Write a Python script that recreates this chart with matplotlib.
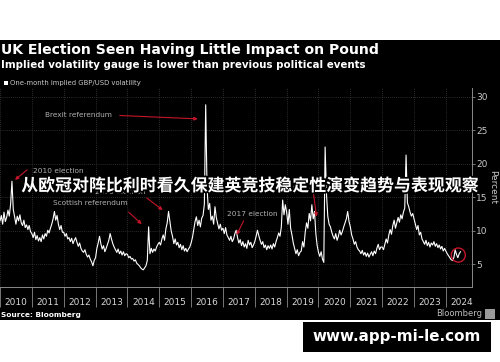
import matplotlib
matplotlib.use("Agg")
import matplotlib.pyplot as plt
import matplotlib.patheffects as pe
from matplotlib.patches import Rectangle, Ellipse
import numpy as np

# ---------------- data (semi-monthly readings, percent) ----------------
start_year = 2010
steps_per_year = 24
v2010 = [11.5, 12.3, 11.0, 12.8, 11.4, 12.0, 13.1, 12.2, 14.0, 17.4, 13.2, 12.1,
         11.0, 12.2, 11.5, 12.4, 11.2, 10.8, 11.6, 10.5, 10.9, 10.2, 10.8, 9.9]
v2011 = [9.6, 9.0, 9.8, 8.7, 9.3, 8.5, 9.0, 8.4, 9.4, 8.8, 9.6, 9.2,
         10.1, 9.7, 10.4, 11.0, 11.8, 12.9, 11.6, 12.3, 11.0, 10.2, 10.8, 9.8]
v2012 = [9.8, 9.2, 9.6, 8.8, 9.0, 8.4, 8.9, 8.1, 8.6, 9.0, 8.3, 7.7,
         8.2, 7.4, 7.0, 6.8, 7.2, 6.5, 6.1, 6.4, 5.8, 5.4, 4.8, 5.6]
v2013 = [6.0, 7.4, 8.2, 9.2, 8.1, 7.3, 7.8, 6.9, 7.4, 8.0, 8.6, 9.6,
         8.8, 8.1, 7.6, 7.2, 6.8, 7.3, 6.6, 7.0, 6.4, 6.9, 6.3, 6.6]
v2014 = [6.5, 6.0, 6.2, 5.8, 5.9, 5.5, 5.7, 5.2, 5.0, 4.8, 4.5, 4.3,
         4.2, 4.5, 4.8, 5.6, 10.6, 6.6, 7.4, 6.8, 7.3, 7.0, 7.6, 8.0]
v2015 = [8.3, 7.9, 8.8, 9.4, 8.6, 10.3, 11.2, 12.9, 11.5, 10.0, 9.2, 8.1,
         8.8, 7.9, 8.3, 7.5, 8.0, 7.2, 7.8, 7.0, 7.4, 6.9, 7.3, 7.6]
v2016 = [8.2, 9.0, 10.2, 11.4, 12.1, 10.8, 11.6, 10.6, 11.9, 12.3, 14.0, 28.8,
         16.5, 13.2, 14.1, 11.6, 12.2, 11.0, 13.6, 12.0, 11.1, 10.3, 11.0, 10.1]
v2017 = [10.4, 9.6, 10.5, 9.4, 9.0, 8.6, 9.2, 8.4, 8.8, 9.6, 10.1, 9.0,
         8.2, 8.7, 7.8, 8.4, 7.6, 8.1, 7.4, 8.6, 7.9, 8.3, 7.5, 7.9]
v2018 = [8.4, 9.2, 10.1, 9.3, 8.6, 8.0, 8.4, 7.5, 7.9, 7.2, 7.8, 7.4,
         7.9, 7.3, 8.1, 7.6, 8.4, 9.0, 9.7, 9.2, 10.6, 14.6, 12.4, 13.9]
v2019 = [12.8, 11.0, 13.2, 10.4, 9.4, 8.2, 7.4, 6.6, 7.2, 6.3, 6.8, 7.0,
         8.4, 7.6, 9.8, 11.2, 10.4, 12.6, 11.5, 13.9, 11.8, 12.9, 9.6, 7.8]
v2020 = [6.8, 6.2, 6.9, 5.8, 5.3, 22.5, 15.6, 12.2, 11.0, 10.6, 9.8, 9.2,
         8.8, 9.6, 8.6, 9.2, 10.1, 9.4, 9.9, 10.6, 11.2, 11.8, 12.9, 11.4]
v2021 = [10.6, 9.4, 8.8, 8.0, 8.4, 7.6, 7.2, 7.0, 6.6, 7.1, 6.4, 6.8,
         6.2, 6.7, 6.1, 6.5, 6.9, 6.3, 7.0, 6.6, 7.4, 8.0, 7.2, 7.6]
v2022 = [7.6, 7.2, 8.0, 8.8, 8.2, 9.4, 10.2, 9.5, 10.8, 11.6, 10.4, 11.2,
         12.0, 11.3, 12.4, 11.8, 12.8, 13.4, 21.3, 14.2, 13.6, 12.8, 12.2, 12.6]
v2023 = [11.8, 11.0, 10.2, 10.8, 9.4, 9.8, 8.8, 8.4, 8.0, 8.6, 7.8, 8.3,
         7.6, 8.2, 7.9, 8.4, 7.7, 8.1, 7.5, 7.9, 7.3, 7.7, 7.0, 7.4]
v2024 = [7.0, 6.6, 6.3, 6.0, 5.7, 5.6, 6.0, 7.2, 6.5, 6.0, 6.6, 6.9]

values = (v2010 + v2011 + v2012 + v2013 + v2014 + v2015 + v2016 + v2017 +
          v2018 + v2019 + v2020 + v2021 + v2022 + v2023 + v2024)
dates = start_year + np.arange(len(values)) / steps_per_year

years = list(range(2010, 2025))
year_labels = [str(y) for y in years]
y_ticks = [5, 10, 15, 20, 25, 30]

# annotations: (label, text_x, text_y, arrow_from, arrow_to, ha)
annotations = [
    ("Brexit referendum", 2012.45, 27.3, (2013.76, 27.2), (2016.21, 26.7), "center"),
    ("2010 election", 2011.03, 19.0, (2010.85, 19.1), (2010.47, 17.6), "left"),
    ("2015 election", 2012.98, 15.8, (2014.61, 14.9), (2015.11, 13.1), "left"),
    ("Scottish referendum", 2011.66, 14.2, (2014.04, 12.8), (2014.45, 11.0), "left"),
    ("2017 election", 2017.12, 12.5, (2017.65, 11.5), (2017.43, 9.4), "left"),
    ("2019 election", 2019.05, 16.4, (2019.84, 15.7), (2019.94, 12.1), "left"),
]
circle_center = (2024.39, 6.4)

# ---------------- figure ----------------
W, H = 500, 362
fig = plt.figure(figsize=(W / 100, H / 100), dpi=100, facecolor="white")

def fx(px):
    return px / W

def fy(py):
    return 1 - py / H

# black panel (behind the axes)
fig.patches.append(Rectangle((0, fy(320)), 1, fy(40) - fy(320), transform=fig.transFigure,
                             facecolor="black", edgecolor="none", zorder=-10))

ax = fig.add_axes([0.0, fy(287), fx(472), fy(88) - fy(287)])
ax.set_zorder(1)
ax.patch.set_alpha(0)
ax.plot(dates, values, color="white", lw=0.8, zorder=3)

ax.set_xlim(2010, 2024.82)
ax.set_ylim(1.64, 31.3)

for s in ["left", "top"]:
    ax.spines[s].set_visible(False)
ax.spines["right"].set_color("#8a8a8a")
ax.spines["bottom"].set_color("#8a8a8a")
ax.spines["right"].set_linewidth(0.7)
ax.spines["bottom"].set_linewidth(0.7)

ax.yaxis.tick_right()
ax.set_yticks(y_ticks)
ax.set_yticklabels([str(t) for t in y_ticks])
ax.tick_params(axis="y", colors="#8a8a8a", labelcolor="#c8c8c8", labelsize=6.5,
               length=2, width=0.6, pad=1)
ax.yaxis.set_label_position("right")
ax.set_ylabel("Percent", rotation=270, color="#c8c8c8", fontsize=6.5, labelpad=7)

ax.set_xticks(years)
ax.set_xticklabels([""] * len(years))
ax.set_xticks([y + 0.5 for y in years], minor=True)
ax.set_xticklabels(year_labels, minor=True)
ax.tick_params(axis="x", which="major", colors="#8a8a8a", length=14.4, width=0.6)
ax.tick_params(axis="x", which="minor", length=0, labelcolor="#d8d8d8", labelsize=6.5, pad=8)

ax.grid(True, which="major", color="#3a3a3a", lw=0.6, ls=(0, (1, 1.5)), zorder=0)

for label, tx, ty, a0, a1, ha in annotations:
    ax.text(tx, ty, label, color="#b0b0b0", fontsize=5.3, ha=ha, va="center", zorder=4)
    ax.annotate("", xy=a1, xytext=a0,
                arrowprops=dict(arrowstyle="-|>", color="#c4162a", lw=0.8,
                                mutation_scale=5, shrinkA=0, shrinkB=0), zorder=4)

ax.add_patch(Ellipse(circle_center, 0.44, 2.1, facecolor="none", edgecolor="#c4162a", lw=1.0, zorder=5))

# titles
fig.text(fx(1), fy(50), "UK Election Seen Having Little Impact on Pound", color="white",
         fontsize=10.1, fontweight="bold", ha="left", va="center")
fig.text(fx(1), fy(65), "Implied volatility gauge is lower than previous political events",
         color="white", fontsize=7.4, fontweight="bold", ha="left", va="center")
fig.patches.append(Rectangle((fx(4), fy(85)), fx(4), fy(81) - fy(85), transform=fig.transFigure,
                             facecolor="white", edgecolor="none"))
fig.text(fx(10), fy(83), "One-month implied GBP/USD volatility", color="#c8c8c8",
         fontsize=4.95, ha="left", va="center")

fig.text(fx(1), fy(315), "Source: Bloomberg", color="white", fontsize=5.35,
         fontweight="bold", ha="left", va="center")
fig.text(fx(482), fy(314), "Bloomberg", color="#bdbdbd", fontsize=6.0,
         ha="right", va="center")
fig.patches.append(Rectangle((fx(485), fy(319)), fx(10), fy(309) - fy(319), transform=fig.transFigure,
                             facecolor="#9a9a9a", edgecolor="none"))

# overlay text
fig.text(fx(249), fy(186), "从欧冠对阵比利时看久保建英竞技稳定性演变趋势与表现观察",
         color="white", fontsize=12.2, fontweight="bold", ha="center", va="center",
         family=["Noto Sans CJK SC", "DejaVu Sans"], zorder=10,
         path_effects=[pe.withStroke(linewidth=2.5, foreground="black")])

# watermark box
fig.patches.append(Rectangle((fx(303), fy(352)), fx(188), fy(322) - fy(352), transform=fig.transFigure,
                             facecolor="black", edgecolor="none"))
fig.text(fx(397), fy(337), "www.app-mi-le.com", color="white", fontsize=10.9,
         fontweight="bold", ha="center", va="center")

fig.savefig("out.png", dpi=100, facecolor="white")
